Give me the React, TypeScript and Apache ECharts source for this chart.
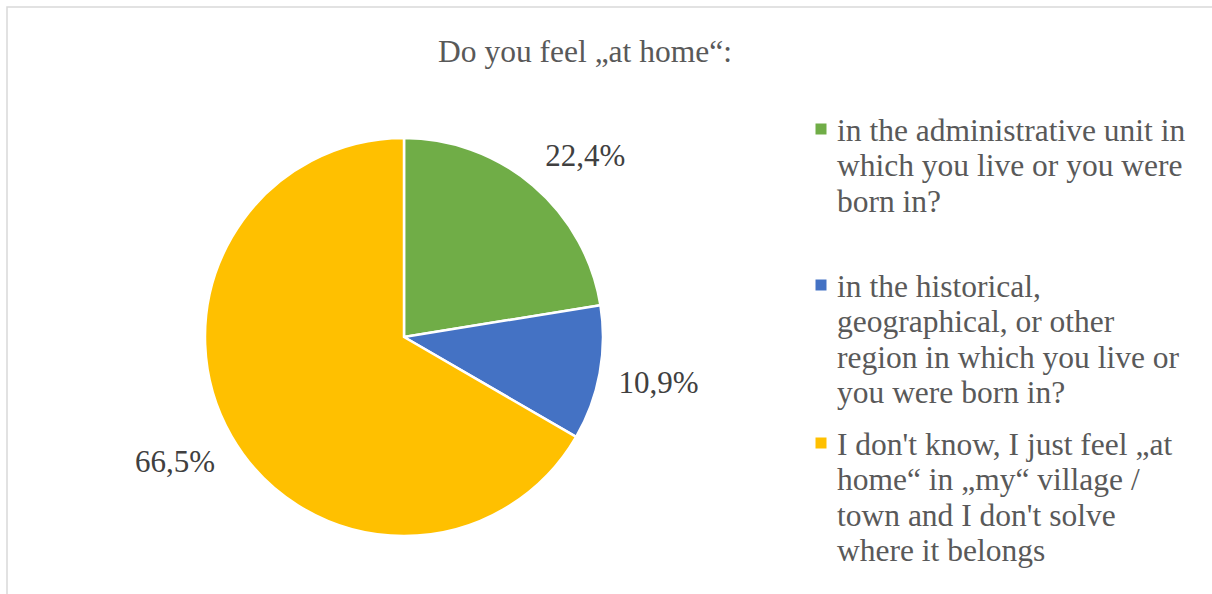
import React, { useEffect, useRef } from "react";
import * as echarts from "echarts";

const chartTitle = "Do you feel „at home“:";
const categories = [
  "in the administrative unit in\nwhich you live or you were\nborn in?",
  "in the historical,\ngeographical, or other\nregion in which you live or\nyou were born in?",
  "I don't know, I just feel „at\nhome“ in „my“ village /\ntown and I don't solve\nwhere it belongs",
];
const values = [22.4, 10.9, 66.5];
const colors = ["#70AD47", "#4472C4", "#FFC000"];

const FONT = "'Liberation Serif', 'Times New Roman', serif";

export default function App() {
  const ref = useRef<HTMLDivElement>(null);

  useEffect(() => {
    document.body.style.margin = "0";
    const chart = echarts.init(ref.current!, null, { renderer: "svg" });
    const cx = 404;
    const cy = 337;
    const R = 199;
    const labelR = 218;
    const legendCenters = [129, 285, 443];
    const lineH = 35.5;

    const total = values.reduce((a, b) => a + b, 0);
    const midAngles: number[] = [];
    let acc = 0;
    values.forEach((v) => {
      midAngles.push(((acc + v / 2) / total) * Math.PI * 2);
      acc += v;
    });

    const legendGraphics: any[] = [];
    categories.forEach((name, i) => {
      legendGraphics.push({
        type: "rect",
        shape: { x: 815.5, y: legendCenters[i] - 5.5, width: 11, height: 11 },
        style: { fill: colors[i] },
        silent: true,
      });
      legendGraphics.push({
        type: "text",
        x: 837,
        y: legendCenters[i] - lineH / 2 + 1,
        style: {
          text: name,
          fontSize: 31.5,
          fontFamily: FONT,
          fill: "#595959",
          lineHeight: lineH,
          align: "left",
          verticalAlign: "top",
        },
        silent: true,
      });
    });

    const fmt = (p: any) => p.value.toFixed(1).replace(".", ",") + "%";
    const clamp = (v: number) => Math.max(-1, Math.min(1, v * 2));

    chart.setOption({
      animation: false,
      backgroundColor: "#ffffff",
      graphic: [
        {
          type: "rect",
          shape: { x: 7, y: 7, width: 1400, height: 800 },
          style: { fill: "none", stroke: "#d9d9d9", lineWidth: 1.5 },
          silent: true,
          z: -10,
        },
        {
          type: "text",
          x: 585,
          y: 51,
          style: {
            text: chartTitle,
            fontSize: 31.5,
            fontFamily: FONT,
            fill: "#595959",
            align: "center",
            verticalAlign: "middle",
          },
          silent: true,
        },
        ...legendGraphics,
      ],
      series: [
        {
          type: "pie",
          center: [cx, cy],
          radius: [0, R],
          startAngle: 90,
          clockwise: true,
          silent: true,
          legendHoverLink: false,
          avoidLabelOverlap: false,
          itemStyle: { borderColor: "#ffffff", borderWidth: 2.5 },
          label: {
            show: true,
            position: "outside",
            formatter: fmt,
            fontSize: 31,
            fontFamily: FONT,
            color: "#404040",
          },
          labelLine: { show: false },
          labelLayout: (p: any) => {
            const th = midAngles[p.dataIndex];
            const ux = Math.sin(th);
            const uy = -Math.cos(th);
            const w = p.labelRect.width;
            const h = p.labelRect.height;
            return {
              x: cx + labelR * ux + (w / 2) * clamp(ux),
              y: cy + labelR * uy + (h / 2) * clamp(uy),
              align: "center",
              verticalAlign: "middle",
            };
          },
          data: values.map((v, i) => ({
            name: categories[i],
            value: v,
            itemStyle: { color: colors[i] },
          })),
        },
      ],
    });

    return () => {
      chart.dispose();
    };
  }, []);

  return <div ref={ref} style={{ width: 1212, height: 594 }} />;
}
